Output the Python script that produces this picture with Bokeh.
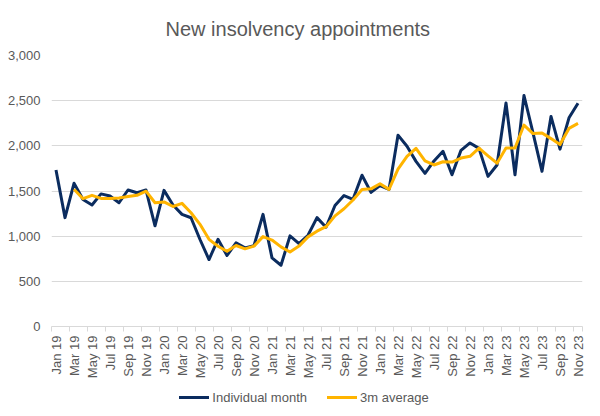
import math
from bokeh.plotting import figure
from bokeh.layouts import column
from bokeh.models import Range1d, FixedTicker, NumeralTickFormatter, Div
from bokeh.embed import file_html
from bokeh.resources import INLINE

months = ["Jan 19", "Feb 19", "Mar 19", "Apr 19", "May 19", "Jun 19", "Jul 19", "Aug 19", "Sep 19", "Oct 19", "Nov 19", "Dec 19",
          "Jan 20", "Feb 20", "Mar 20", "Apr 20", "May 20", "Jun 20", "Jul 20", "Aug 20", "Sep 20", "Oct 20", "Nov 20", "Dec 20",
          "Jan 21", "Feb 21", "Mar 21", "Apr 21", "May 21", "Jun 21", "Jul 21", "Aug 21", "Sep 21", "Oct 21", "Nov 21", "Dec 21",
          "Jan 22", "Feb 22", "Mar 22", "Apr 22", "May 22", "Jun 22", "Jul 22", "Aug 22", "Sep 22", "Oct 22", "Nov 22", "Dec 22",
          "Jan 23", "Feb 23", "Mar 23", "Apr 23", "May 23", "Jun 23", "Jul 23", "Aug 23", "Sep 23", "Oct 23", "Nov 23"]

individual = [1733, 1205, 1585, 1405, 1345, 1468, 1444, 1370, 1511, 1480, 1511, 1115,
              1507, 1345, 1241, 1204, 963, 741, 965, 786, 926, 870, 895, 1241,
              760, 678, 1003, 918, 1010, 1205, 1099, 1340, 1450, 1408, 1675, 1485,
              1560, 1517, 2118, 1995, 1828, 1696, 1833, 1940, 1680, 1950, 2032, 1972,
              1662, 1788, 2475, 1680, 2557, 2143, 1718, 2325, 1963, 2310, 2472]

avg3m = [None, None, 1519, 1415, 1452, 1418, 1416, 1422, 1438, 1452, 1498, 1370,
         1379, 1328, 1363, 1259, 1131, 965, 889, 833, 897, 860, 890, 995,
         957, 882, 825, 890, 992, 1055, 1105, 1225, 1303, 1400, 1517, 1524,
         1580, 1518, 1742, 1884, 1973, 1833, 1788, 1824, 1820, 1865, 1884, 1975,
         1890, 1808, 1975, 1976, 2230, 2136, 2142, 2080, 2014, 2193, 2248]

series_names = ["Individual month", "3m average"]
series_colors = ["#0B2C5F", "#FFB400"]

y_ticks = [0, 500, 1000, 1500, 2000, 2500, 3000]

x_idx = list(range(len(months)))
avg_x = [i for i, v in zip(x_idx, avg3m) if v is not None]
avg_y = [v for v in avg3m if v is not None]

grey = "#595959"
font = "Liberation Sans"

p = figure(frame_width=531, frame_height=271, output_backend="svg", toolbar_location=None,
           x_range=Range1d(-0.5, len(months) - 0.5), y_range=Range1d(0, 3000),
           title="New insolvency appointments")
p.min_border_left = 51
p.min_border_right = 8
p.min_border_top = 53
p.min_border_bottom = 0
p.outline_line_color = None
p.background_fill_color = "white"
p.border_fill_color = "white"

p.title.align = "left"
p.title.offset = 114
p.title.text_font = font
p.title.text_font_size = "20px"
p.title.text_font_style = "normal"
p.title.text_color = grey
p.title.standoff = 31

p.line(x_idx, individual, line_color=series_colors[0], line_width=3, line_join="round")
p.line(avg_x, avg_y, line_color=series_colors[1], line_width=3, line_join="round")

# X axis
xa = p.xaxis[0]
xa.ticker = FixedTicker(ticks=x_idx[::2], minor_ticks=[i - 0.5 for i in x_idx[::2]] + [len(months) - 0.5])
xa.major_label_overrides = {i: months[i] for i in x_idx[::2]}
xa.major_label_orientation = math.pi / 2
xa.major_tick_line_color = None
xa.major_tick_out = 0
xa.major_tick_in = 0
xa.minor_tick_line_color = "#d9d9d9"
xa.minor_tick_out = 5
xa.minor_tick_in = 0
xa.axis_line_color = "#d9d9d9"
xa.major_label_text_font = font
xa.major_label_text_font_size = "13px"
xa.major_label_text_color = grey
xa.major_label_standoff = 4

# Y axis
ya = p.yaxis[0]
ya.ticker = FixedTicker(ticks=y_ticks)
ya.formatter = NumeralTickFormatter(format="0,0")
ya.axis_line_color = None
ya.major_tick_line_color = None
ya.minor_tick_line_color = None
ya.major_tick_out = 0
ya.major_label_text_font = font
ya.major_label_text_font_size = "13px"
ya.major_label_text_color = grey
ya.major_label_standoff = 11

p.xgrid.grid_line_color = None
p.ygrid.grid_line_color = "#d9d9d9"
p.ygrid.grid_line_width = 1

items_html = ""
for k, (name, col) in enumerate(zip(series_names, series_colors)):
    ml = "0px" if k == 0 else "20px"
    items_html += (f'<span style="display:inline-block;width:30px;height:3px;background:{col};'
                   f'margin-left:{ml};margin-right:3px;vertical-align:middle"></span>'
                   f'<span style="vertical-align:middle">{name}</span>')
legend_div = Div(text=(f'<div style="width:608px;text-align:center;font-family:\'{font}\';'
                       f'font-size:13px;color:{grey};line-height:16px;padding-top:8px;white-space:nowrap">'
                       f'{items_html}</div>'),
                 width=590, height=34, margin=(0, 0, 0, 0))

layout = column(p, legend_div, spacing=0)
open("out.html", "w").write(file_html(layout, INLINE))
